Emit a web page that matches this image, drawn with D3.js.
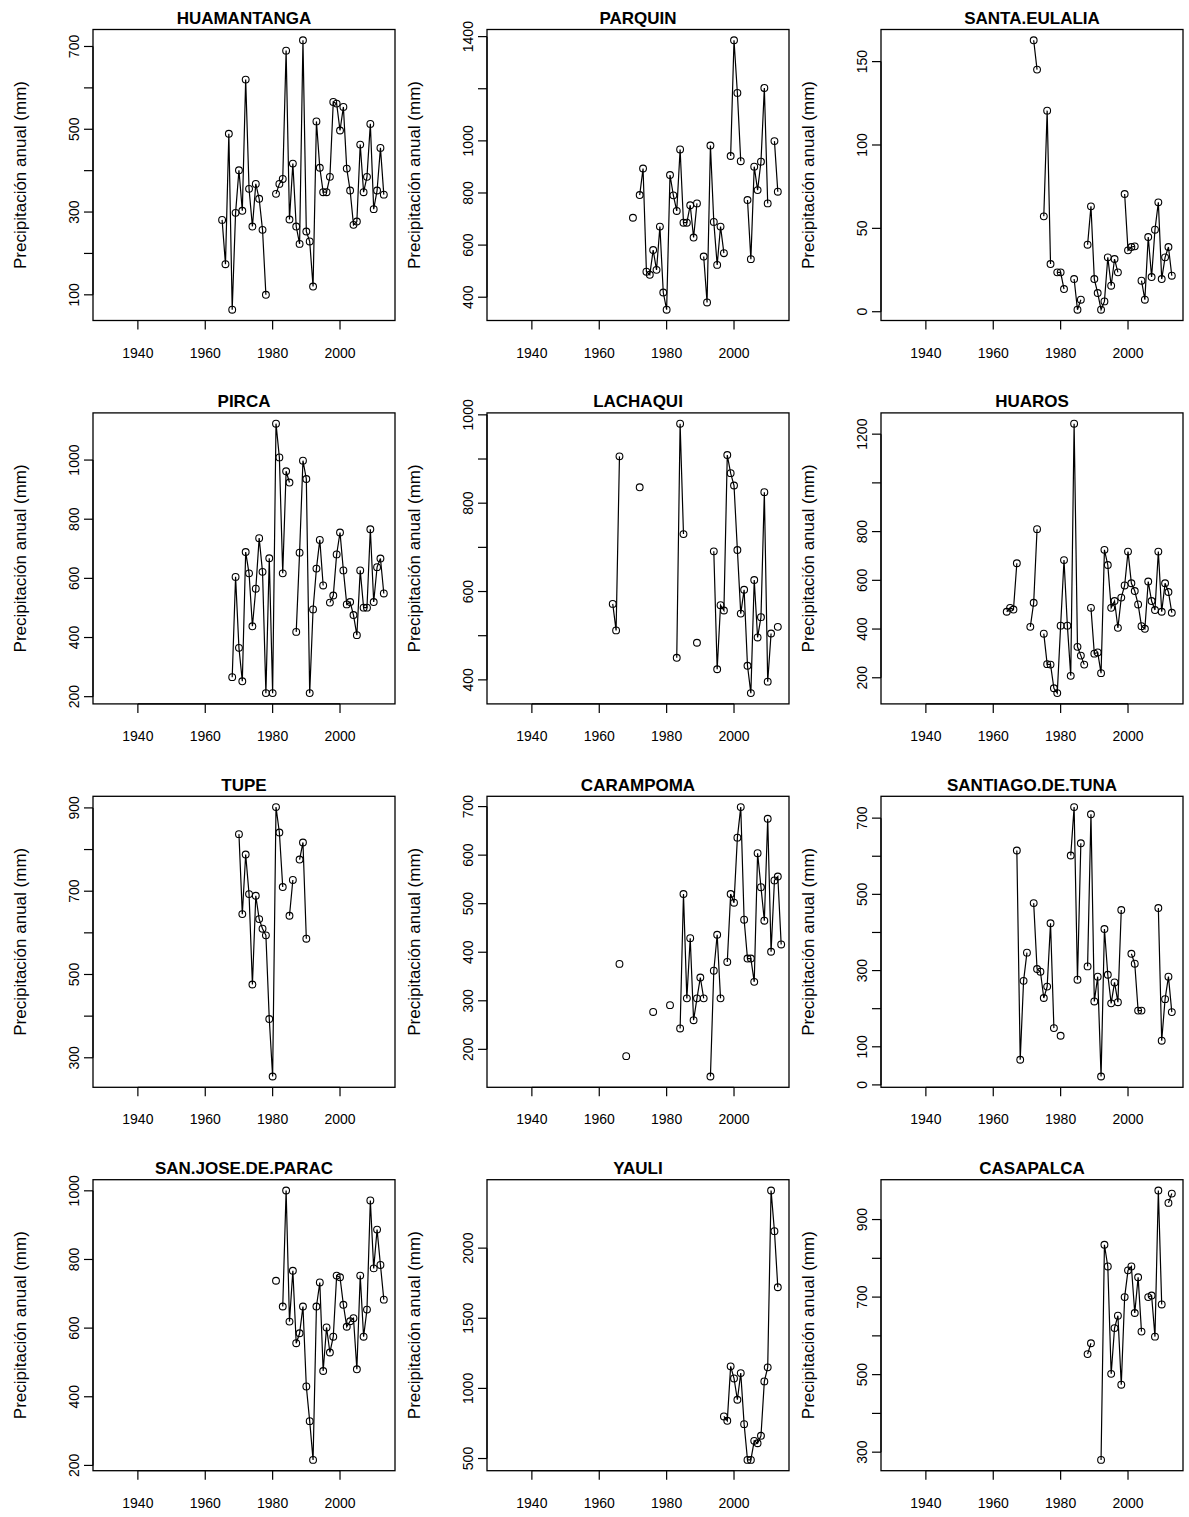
<!DOCTYPE html>
<html><head><meta charset="utf-8">
<script src="https://cdn.jsdelivr.net/npm/d3@7"></script>
<style>body{margin:0;background:#fff}svg{display:block}</style>
</head><body>
<svg id="chart" width="1189" height="1517"></svg>
<script>
// ---------------- DATA ----------------
const stationNames = ["HUAMANTANGA","PARQUIN","SANTA.EULALIA","PIRCA","LACHAQUI","HUAROS",
  "TUPE","CARAMPOMA","SANTIAGO.DE.TUNA","SAN.JOSE.DE.PARAC","YAULI","CASAPALCA"];
const startYears = [1965,1970,1972,1968,1964,1964,1970,1966,1967,1981,1997,1988];
const xLimits = [1930, 2013];
const xTickValues = [1940, 1960, 1980, 2000];

const huamantanga = [281,174,489,64,298,401,303,620,356,265,368,332,257,100,null,null,344,368,380,690,282,417,265,223,715,253,229,120,519,407,348,348,385,566,562,497,554,405,352,269,277,463,348,385,513,307,352,455,342];
const parquin = [705,null,792,894,498,486,581,505,671,418,352,869,791,731,967,686,686,753,629,760,null,556,380,982,689,524,671,569,null,942,1386,1184,922,null,773,546,901,811,920,1203,760,null,999,805];
const santaEulalia = [162.8,145.2,null,57.2,120.6,28.6,null,23.6,23.6,13.6,null,null,19.6,1.2,7.2,null,40.2,63.2,19.6,11.2,1.2,6.2,32.6,15.6,31.6,23.6,null,70.6,36.8,38.8,39.2,null,18.6,7.2,44.8,20.8,49.2,65.6,19.6,32.6,38.8,21.6];
const pirca = [266,605,365,252,689,617,438,565,736,622,212,668,212,1123,1009,617,962,924,null,419,687,998,936,212,495,633,730,576,null,518,542,681,755,627,512,520,476,408,627,501,501,766,520,638,667,549];
const lachaqui = [572,512,906,null,null,null,null,null,836,null,null,null,null,null,null,null,null,null,null,450,980,730,null,null,null,484,null,null,null,null,691,424,569,557,909,868,840,694,550,604,432,370,626,496,542,825,396,505,null,520];
const huaros = [471,487,480,670,null,null,null,409,508,810,null,381,256,254,157,137,414,683,414,208,1243,327,291,254,null,487,299,304,219,725,663,487,515,405,529,579,718,588,556,501,412,401,595,515,478,718,471,588,552,467];
const tupe = [837,645,788,693,476,689,633,610,594,393,255,902,841,710,null,641,727,null,776,817,586];
const carampoma = [376,null,186,null,null,null,null,null,null,null,277,null,null,null,null,291,null,null,243,520,305,429,260,305,348,305,null,144,362,436,305,null,380,520,502,636,699,467,387,387,339,604,534,465,675,401,548,556,416];
const santiagoDeTuna = [615,66,273,347,null,477,304,297,228,258,424,149,null,129,null,null,602,729,276,634,null,311,710,219,284,22,409,289,214,269,217,459,null,null,344,318,195,195,null,null,null,null,464,116,225,284,191];
const sanJoseDeParac = [738,null,663,1001,619,767,556,585,663,430,329,216,663,733,475,602,529,575,753,748,668,604,620,629,480,753,575,654,972,774,887,784,683];
const yauli = [800,769,1157,1071,919,1109,745,490,490,626,609,662,1050,1150,2411,2121,1721];
const casapalca = [553,581,null,null,280,835,779,502,620,652,474,700,769,779,659,751,611,null,700,704,598,975,681,null,943,967];

const stationValues = [huamantanga,parquin,santaEulalia,pirca,lachaqui,huaros,tupe,carampoma,santiagoDeTuna,sanJoseDeParac,yauli,casapalca];

const yTickValues = [
  [100,200,300,400,500,600,700],
  [400,600,800,1000,1200,1400],
  [0,50,100,150],
  [200,400,600,800,1000],
  [400,500,600,700,800,900,1000],
  [200,400,600,800,1000,1200],
  [300,400,500,600,700,800,900],
  [200,300,400,500,600,700],
  [0,100,200,300,400,500,600,700],
  [200,400,600,800,1000],
  [500,1000,1500,2000],
  [300,400,500,600,700,800,900]
];
const yTickLabels = [
  [100,300,500,700],
  [400,600,800,1000,1400],
  [0,50,100,150],
  [200,400,600,800,1000],
  [400,600,800,1000],
  [200,400,600,800,1200],
  [300,500,700,900],
  [200,300,400,500,600,700],
  [0,100,300,500,700],
  [200,400,600,800,1000],
  [500,1000,1500,2000],
  [300,500,700,900]
];
const yAxisTitle = "Precipitación anual (mm)";

// ---------------- LAYOUT ----------------
const FONT = "'Liberation Sans', Arial, Helvetica, sans-serif";
const boxW = 302, boxH = 291;
const colLeft = c => 93 + c * 394;
const rowTop = r => 29.5 + r * 383.4;
const pad = ([a, b]) => { const d = (b - a) * 0.04; return [a - d, b + d]; };

const svg = d3.select("#chart");
svg.append("rect").attr("width", 1189).attr("height", 1517).attr("fill", "#fff");

const x = d3.scaleLinear().domain(pad(xLimits)).range([0, boxW]);

stationNames.forEach((name, i) => {
  const c = i % 3, r = Math.floor(i / 3);
  const g = svg.append("g").attr("transform", `translate(${colLeft(c)},${rowTop(r)})`);
  const pts = stationValues[i].map((v, k) => ({ year: startYears[i] + k, v }));
  const valid = pts.filter(d => d.v !== null);
  const y = d3.scaleLinear().domain(pad(d3.extent(valid, d => d.v))).range([boxH, 0]);

  // box
  g.append("rect").attr("width", boxW).attr("height", boxH)
    .attr("fill", "none").attr("stroke", "#000").attr("stroke-width", 1.3);

  // x axis
  const xa = g.append("g").attr("transform", `translate(0,${boxH})`);
  xa.append("line").attr("x1", x(xTickValues[0])).attr("x2", x(xTickValues[xTickValues.length - 1]))
    .attr("stroke", "#000").attr("stroke-width", 1.2);
  xTickValues.forEach(t => {
    xa.append("line").attr("x1", x(t)).attr("x2", x(t)).attr("y1", 0).attr("y2", 9)
      .attr("stroke", "#000").attr("stroke-width", 1.2);
    xa.append("text").attr("x", x(t)).attr("y", 37).attr("text-anchor", "middle")
      .attr("font-family", FONT).attr("font-size", 14).attr("fill", "#000").text(t);
  });

  // y axis
  const ya = g.append("g");
  const yt = yTickValues[i];
  ya.append("line").attr("x1", 0).attr("x2", 0).attr("y1", y(yt[0])).attr("y2", y(yt[yt.length - 1]))
    .attr("stroke", "#000").attr("stroke-width", 1.2);
  yt.forEach(t => {
    ya.append("line").attr("x1", -9).attr("x2", 0).attr("y1", y(t)).attr("y2", y(t))
      .attr("stroke", "#000").attr("stroke-width", 1.2);
  });
  yTickLabels[i].forEach(t => {
    ya.append("text").attr("transform", `translate(-14,${y(t)}) rotate(-90)`)
      .attr("text-anchor", "middle").attr("font-family", FONT).attr("font-size", 14)
      .attr("fill", "#000").text(t);
  });
  g.append("text").attr("transform", `translate(-67,${boxH / 2}) rotate(-90)`)
    .attr("text-anchor", "middle").attr("font-family", FONT).attr("font-size", 17)
    .attr("fill", "#000").text(yAxisTitle);

  // title
  g.append("text").attr("x", boxW / 2).attr("y", -5.5).attr("text-anchor", "middle")
    .attr("font-family", FONT).attr("font-size", 17).attr("font-weight", "bold")
    .attr("fill", "#000").text(name);

  // series
  const line = d3.line().defined(d => d.v !== null).x(d => x(d.year)).y(d => y(d.v));
  g.append("path").attr("d", line(pts)).attr("fill", "none")
    .attr("stroke", "#000").attr("stroke-width", 1.2);
  g.selectAll("circle.p").data(valid).enter().append("circle")
    .attr("cx", d => x(d.year)).attr("cy", d => y(d.v)).attr("r", 3.4)
    .attr("fill", "none").attr("stroke", "#000").attr("stroke-width", 1.1);
});
</script>
</body></html>
